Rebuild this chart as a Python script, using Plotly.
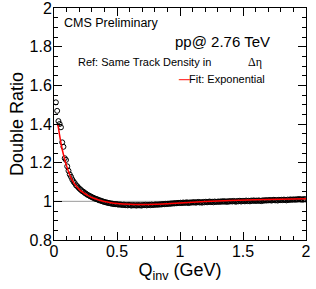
import plotly.graph_objects as go

# ---- data ----
q_first = 0.015
q_step = 0.01
double_ratio = [
    1.512, 1.468, 1.415, 1.400, 1.383, 1.305, 1.282, 1.223, 1.214, 1.181,
    1.158, 1.139, 1.127, 1.113, 1.102, 1.094, 1.083, 1.078, 1.070, 1.064,
    1.058, 1.052, 1.049, 1.043, 1.039, 1.034, 1.031, 1.027, 1.024, 1.020,
    1.018, 1.014, 1.012, 1.010, 1.006, 1.005, 1.002, 1.000, 0.998, 0.996,
    0.994, 0.993, 0.991, 0.990, 0.988, 0.988, 0.986, 0.985, 0.986, 0.984,
    0.983, 0.984, 0.982, 0.981, 0.983, 0.980, 0.981, 0.979, 0.982, 0.980,
    0.978, 0.981, 0.979, 0.980, 0.978, 0.981, 0.979, 0.980, 0.978, 0.981,
    0.980, 0.982, 0.979, 0.981, 0.982, 0.980, 0.983, 0.981, 0.982, 0.984,
    0.982, 0.984, 0.983, 0.985, 0.984, 0.986, 0.985, 0.987, 0.986, 0.988,
    0.987, 0.989, 0.988, 0.990, 0.989, 0.991, 0.990, 0.992, 0.991,
    0.993, 0.991, 0.994, 0.992, 0.993, 0.995, 0.991, 0.994, 0.993, 0.995,
    0.994, 0.996, 0.993, 0.995, 0.997, 0.994, 0.996, 0.993, 0.997, 0.995,
    0.998, 0.995, 0.997, 0.999, 0.996, 0.998, 0.995, 0.999, 0.997, 0.998,
    0.999, 0.997, 1.000, 0.998, 1.001, 0.998, 1.000, 0.997, 1.001, 0.999,
    1.001, 0.999, 1.002, 1.000, 0.998, 1.002, 1.000, 1.003, 0.999, 1.002,
    1.002, 1.000, 1.004, 1.001, 1.003, 1.000, 1.004, 1.002, 1.005, 1.002,
    1.004, 1.002, 1.005, 1.003, 1.001, 1.005, 1.003, 1.006, 1.004, 1.006,
    1.005, 1.007, 1.004, 1.006, 1.008, 1.005, 1.007, 1.004, 1.008, 1.006,
    1.008, 1.006, 1.009, 1.007, 1.005, 1.009, 1.007, 1.010, 1.008, 1.009,
    1.010, 1.008, 1.011, 1.009, 1.012, 1.009, 1.011, 1.008, 1.012, 1.010,
]
q_inv = [round(q_first + q_step * i, 3) for i in range(len(double_ratio))]

fit_q = [0.03, 0.04, 0.05, 0.06, 0.07, 0.08, 0.09, 0.10, 0.12, 0.14, 0.16,
         0.18, 0.20, 0.23, 0.26, 0.30, 0.35, 0.40, 0.45, 0.50, 0.60, 0.70,
         0.80, 0.90, 1.00, 1.20, 1.40, 1.60, 1.80, 2.00]
fit_y = [1.400, 1.360, 1.320, 1.285, 1.255, 1.230, 1.205, 1.183, 1.145,
         1.115, 1.093, 1.076, 1.062, 1.046, 1.034, 1.020, 1.008, 0.999,
         0.993, 0.989, 0.985, 0.984, 0.985, 0.988, 0.992, 0.999, 1.004,
         1.008, 1.011, 1.013]

x_ticks = [0, 0.5, 1, 1.5, 2]
x_tick_labels = ["0", "0.5", "1", "1.5", "2"]
y_ticks = [0.8, 1.0, 1.2, 1.4, 1.6, 1.8, 2.0]
y_tick_labels = ["0.8", "1", "1.2", "1.4", "1.6", "1.8", "2"]

FONT = "Liberation Sans, Arial, Helvetica, sans-serif"

fig = go.Figure()
fig.add_hline(y=1.0, line=dict(color="#9a9a9a", width=1), layer="below")
fig.add_trace(go.Scatter(
    x=q_inv, y=double_ratio, mode="markers", name="Data", showlegend=False,
    marker=dict(symbol="circle-open", size=5, color="black",
                line=dict(color="black", width=1)),
))
fig.add_trace(go.Scatter(
    x=fit_q, y=fit_y, mode="lines", name="Fit: Exponential",
    line=dict(color="red", width=1.5, shape="spline"), showlegend=False,
))

axis_common = dict(
    showgrid=False, zeroline=False, showline=True, linecolor="black",
    linewidth=1, mirror="allticks", ticks="inside", ticklen=8,
    tickcolor="black", tickwidth=1, automargin=False,
    ticklabeloverflow="allow",
    tickfont=dict(family=FONT, size=16, color="black"),
)

fig.update_layout(
    width=316, height=289,
    margin=dict(l=54, r=10, t=8, b=49),
    paper_bgcolor="white", plot_bgcolor="white",
    font=dict(family=FONT, color="black"),
    xaxis=dict(range=[0, 2], tickvals=x_ticks, ticktext=x_tick_labels,
               ticklabelstandoff=-3,
               minor=dict(dtick=0.1, ticklen=4, ticks="inside",
                          tickcolor="black"),
               title=dict(text="Q<sub>inv</sub> (GeV)",
                          font=dict(family=FONT, size=18), standoff=0),
               **axis_common),
    yaxis=dict(range=[0.8, 2.0], tickvals=y_ticks, ticktext=y_tick_labels,
               ticklabelstandoff=-2,
               minor=dict(dtick=0.05, ticklen=4, ticks="inside",
                          tickcolor="black"),
               title=dict(text="Double Ratio",
                          font=dict(family=FONT, size=18), standoff=1),
               **axis_common),
)

def px_x(p):
    return (p - 54) / 252.0

def px_y(p):
    return (240 - p) / 232.0

fig.add_annotation(x=px_x(62), y=px_y(23), xref="paper", yref="paper",
                   text="CMS Preliminary", showarrow=False, xanchor="left",
                   yanchor="middle", font=dict(family=FONT, size=12.5))
fig.add_annotation(x=px_x(173), y=px_y(41), xref="paper", yref="paper",
                   text="pp@ 2.76 TeV", showarrow=False, xanchor="left",
                   yanchor="middle", font=dict(family=FONT, size=15))
fig.add_annotation(x=px_x(76), y=px_y(62), xref="paper", yref="paper",
                   text="Ref: Same Track Density in", showarrow=False,
                   xanchor="left", yanchor="middle",
                   font=dict(family=FONT, size=11))
fig.add_annotation(x=px_x(246), y=px_y(62), xref="paper", yref="paper",
                   text="Δη", showarrow=False, xanchor="left",
                   yanchor="middle",
                   font=dict(family="Liberation Serif, serif", size=12))
fig.add_annotation(x=px_x(177), y=px_y(79), xref="paper", yref="paper",
                   text="<b>—</b>", showarrow=False, xanchor="left",
                   yanchor="middle",
                   font=dict(family=FONT, size=11, color="#ff3b3b"))
fig.add_annotation(x=px_x(187), y=px_y(79), xref="paper", yref="paper",
                   text="Fit: Exponential", showarrow=False, xanchor="left",
                   yanchor="middle", font=dict(family=FONT, size=11))

fig.write_html("out.html", config={"displayModeBar": False},
               post_script="document.body.style.margin='0';")
